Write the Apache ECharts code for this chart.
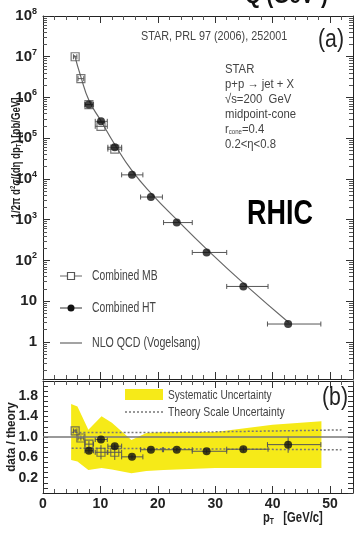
<!DOCTYPE html>
<html>
<head>
<meta charset="utf-8">
<script src="https://cdn.jsdelivr.net/npm/echarts@6/dist/echarts.min.js"></script>
<style>
html, body { margin: 0; padding: 0; background: #fff; }
#chart { width: 359px; height: 533px; }
</style>
</head>
<body>
<div id="chart"></div>
<script>
// STAR inclusive jet cross section, p+p 200 GeV
var mbPt = [5.6, 6.6, 8.0, 10.1, 12.5];
var mbXs = [1.0e7, 2.9e6, 6.7e5, 1.96e5, 5.4e4];
var mbPtLo = [5.3, 6.1, 7.3, 9.1, 11.3];
var mbPtHi = [5.9, 7.1, 8.8, 11.2, 13.7];
var mbRatio = [1.12, 0.98, 0.86, 0.70, 0.70];
var mbRatioErr = [0.04, 0.05, 0.06, 0.14, 0.15];

var htPt = [8.0, 10.1, 12.5, 15.5, 18.8, 23.3, 28.5, 34.9, 42.7];
var htXs = [6.7e5, 2.6e5, 6.0e4, 1.26e4, 3.6e3, 850, 157, 23, 2.75];
var htPtLo = [7.3, 9.1, 11.3, 13.7, 17.0, 21.0, 26.0, 32.0, 39.1];
var htPtHi = [8.8, 11.2, 13.7, 17.4, 20.8, 26.0, 32.0, 39.2, 48.4];
var htRatio = [0.73, 0.95, 0.82, 0.61, 0.75, 0.75, 0.72, 0.76, 0.85];
var htRatioErr = [0.04, 0.05, 0.05, 0.04, 0.03, 0.03, 0.04, 0.05, 0.16];

var nloPt = [5.5, 6.6, 8.0, 10.0, 12.5, 15.5, 19.0, 23.3, 28.5, 35.0, 42.8];
var nloXs = [1.1e7, 3.2e6, 8.5e5, 2.8e5, 7.0e4, 1.6e4, 4.2e3, 1.0e3, 190, 27, 3.0];

var sysPt = [4.9, 6.0, 7.9, 10.2, 12.0, 15.4, 18.0, 21.0, 30.0, 40.0, 48.5];
var sysLo = [0.55, 0.52, 0.35, 0.39, 0.36, 0.29, 0.33, 0.35, 0.39, 0.39, 0.39];
var sysHi = [1.65, 1.60, 1.14, 1.41, 1.28, 0.94, 1.08, 1.10, 1.10, 1.24, 1.31];

var scalePt = [5.0, 20.0, 35.0, 52.0];
var scaleLo = [0.78, 0.77, 0.76, 0.75];
var scaleHi = [1.09, 1.09, 1.11, 1.14];

var ratioLabels = [0.2, 0.6, 1.0, 1.4, 1.8];

var FONT = '"Liberation Sans", Arial, sans-serif';

function zip(a, b) {
    var out = [];
    for (var i = 0; i < a.length; i++) out.push([a[i], b[i]]);
    return out;
}

function errData(pt, val, lo, hi, err) {
    var out = [];
    for (var i = 0; i < pt.length; i++) {
        out.push([pt[i], val[i], lo[i], hi[i], err ? err[i] : 0]);
    }
    return out;
}

// horizontal (and optional vertical) error bars
function renderErr(params, api) {
    var x = api.value(0), y = api.value(1);
    var p = api.coord([x, y]);
    var a = api.coord([api.value(2), y]);
    var b = api.coord([api.value(3), y]);
    var st = { stroke: '#555', lineWidth: 1 };
    var kids = [
        { type: 'line', shape: { x1: a[0], y1: p[1], x2: b[0], y2: p[1] }, style: st },
        { type: 'line', shape: { x1: a[0], y1: p[1] - 2.5, x2: a[0], y2: p[1] + 2.5 }, style: st },
        { type: 'line', shape: { x1: b[0], y1: p[1] - 2.5, x2: b[0], y2: p[1] + 2.5 }, style: st }
    ];
    var e = api.value(4);
    if (e > 0) {
        var u = api.coord([x, y + e]);
        var d = api.coord([x, y - e]);
        kids.push({ type: 'line', shape: { x1: p[0], y1: u[1], x2: p[0], y2: d[1] }, style: st });
    }
    return { type: 'group', children: kids };
}

function renderBand(params, api) {
    if (params.dataIndex !== 0) return { type: 'group', children: [] };
    var pts = [];
    for (var i = 0; i < sysPt.length; i++) pts.push(api.coord([sysPt[i], sysHi[i]]));
    for (var j = sysPt.length - 1; j >= 0; j--) pts.push(api.coord([sysPt[j], sysLo[j]]));
    return { type: 'polygon', shape: { points: pts }, style: { fill: '#f6ea18' } };
}

// condensed looking text (the original uses a narrow font)
function label(x, y, text, font, sx, extra) {
    var st = { text: text, font: font + ' ' + FONT, fill: '#444', align: 'left', verticalAlign: 'middle' };
    for (var k in extra) st[k] = extra[k];
    return { type: 'text', x: x, y: y, scaleX: sx, style: st, z: 10 };
}

var tick = { show: true, inside: true, length: 7, lineStyle: { color: '#333' } };
var frame = { show: true, onZero: false, lineStyle: { color: '#222', width: 1 } };
var xMinor = { show: true, splitNumber: 5, length: 4, lineStyle: { color: '#555' } };
var logMinor = { show: true, splitNumber: 9, length: 4, lineStyle: { color: '#555' } };
var labelFont = { fontFamily: FONT, fontWeight: 'bold', fontSize: 14, color: '#222' };

var chart = echarts.init(document.getElementById('chart'));

chart.setOption({
    animation: false,
    grid: [
        { left: 43, right: 6, top: 16, height: 363, containLabel: false, outerBoundsMode: 'none' },
        { left: 43, right: 6, top: 381, height: 112, containLabel: false, outerBoundsMode: 'none' }
    ],
    xAxis: [
        { type: 'value', gridIndex: 0, min: 0, max: 54, interval: 10, axisLine: frame, axisTick: tick,
          minorTick: xMinor, axisLabel: { show: false }, splitLine: { show: false } },
        { type: 'value', gridIndex: 0, position: 'top', min: 0, max: 54, interval: 10, axisLine: frame, axisTick: tick,
          minorTick: xMinor, axisLabel: { show: false }, splitLine: { show: false } },
        { type: 'value', gridIndex: 1, min: 0, max: 54, interval: 10, axisLine: frame, axisTick: tick,
          minorTick: xMinor, splitLine: { show: false },
          axisLabel: Object.assign({ margin: 4, showMaxLabel: false }, labelFont) },
        { type: 'value', gridIndex: 1, position: 'top', min: 0, max: 54, interval: 10, axisLine: frame, axisTick: tick,
          minorTick: xMinor, axisLabel: { show: false }, splitLine: { show: false } }
    ],
    yAxis: [
        { type: 'log', gridIndex: 0, min: 0.123, max: 1e8, splitNumber: 10, axisLine: frame, axisTick: tick,
          minorTick: logMinor, splitLine: { show: false },
          axisLabel: Object.assign({
              margin: 6, showMinLabel: false,
              formatter: function (v) {
                  var e = Math.round(Math.log10(v));
                  if (e === 0) return '1';
                  if (e === 1) return '10';
                  return '10{sup|' + e + '}';
              },
              rich: { sup: { fontFamily: FONT, fontSize: 9, fontWeight: 'bold', color: '#222', padding: [0, 0, 9, 0] } }
          }, labelFont, { fontSize: 15 }) },
        { type: 'log', gridIndex: 0, position: 'right', min: 0.123, max: 1e8, splitNumber: 10, axisLine: frame, axisTick: tick,
          minorTick: logMinor, axisLabel: { show: false }, splitLine: { show: false } },
        { type: 'value', gridIndex: 1, min: -0.1, max: 2.1, interval: 0.1, axisLine: frame,
          axisTick: { show: true, inside: true, length: 5, lineStyle: { color: '#333' } },
          splitLine: { show: false },
          axisLabel: Object.assign({
              margin: 5, showMinLabel: false, showMaxLabel: false,
              formatter: function (v) {
                  for (var i = 0; i < ratioLabels.length; i++) {
                      if (Math.abs(v - ratioLabels[i]) < 1e-6) return ratioLabels[i].toFixed(1);
                  }
                  return '';
              }
          }, labelFont) },
        { type: 'value', gridIndex: 1, position: 'right', min: -0.1, max: 2.1, interval: 0.1, axisLine: frame,
          axisTick: { show: true, inside: true, length: 5, lineStyle: { color: '#333' } },
          axisLabel: { show: false }, splitLine: { show: false } }
    ],
    series: [
        // top panel
        { name: 'NLO QCD (Vogelsang)', type: 'line', xAxisIndex: 0, yAxisIndex: 0, smooth: true, symbol: 'none',
          lineStyle: { color: '#666', width: 1.2 }, data: zip(nloPt, nloXs), z: 2 },
        { type: 'custom', xAxisIndex: 0, yAxisIndex: 0, renderItem: renderErr,
          data: errData(mbPt, mbXs, mbPtLo, mbPtHi), z: 3 },
        { type: 'custom', xAxisIndex: 0, yAxisIndex: 0, renderItem: renderErr,
          data: errData(htPt, htXs, htPtLo, htPtHi), z: 3 },
        { name: 'Combined MB', type: 'scatter', xAxisIndex: 0, yAxisIndex: 0, symbol: 'rect', symbolSize: 8,
          itemStyle: { color: 'rgba(255,255,255,0)', borderColor: '#555', borderWidth: 1.2 },
          data: zip(mbPt, mbXs), z: 4 },
        { name: 'Combined HT', type: 'scatter', xAxisIndex: 0, yAxisIndex: 0, symbol: 'circle', symbolSize: 8,
          itemStyle: { color: '#111' }, data: zip(htPt, htXs), z: 5 },

        // bottom panel
        { name: 'Systematic Uncertainty', type: 'custom', xAxisIndex: 2, yAxisIndex: 2, renderItem: renderBand,
          data: zip(sysPt, sysHi), z: 1 },
        { name: 'Theory Scale Uncertainty', type: 'line', xAxisIndex: 2, yAxisIndex: 2, symbol: 'none', smooth: true,
          lineStyle: { color: '#777', width: 1.5, type: [2, 2] }, data: zip(scalePt, scaleHi), z: 2,
          markLine: { silent: true, symbol: 'none', label: { show: false },
                      lineStyle: { color: '#777', width: 1.5, type: 'solid' }, data: [{ yAxis: 1 }] } },
        { type: 'line', xAxisIndex: 2, yAxisIndex: 2, symbol: 'none', smooth: true,
          lineStyle: { color: '#777', width: 1.5, type: [2, 2] }, data: zip(scalePt, scaleLo), z: 2 },
        { type: 'custom', xAxisIndex: 2, yAxisIndex: 2, renderItem: renderErr,
          data: errData(mbPt, mbRatio, mbPtLo, mbPtHi, mbRatioErr), z: 3 },
        { type: 'custom', xAxisIndex: 2, yAxisIndex: 2, renderItem: renderErr,
          data: errData(htPt, htRatio, htPtLo, htPtHi, htRatioErr), z: 3 },
        { type: 'scatter', xAxisIndex: 2, yAxisIndex: 2, symbol: 'rect', symbolSize: 8,
          itemStyle: { color: 'rgba(255,255,255,0)', borderColor: '#555', borderWidth: 1.2 },
          data: zip(mbPt, mbRatio), z: 4 },
        { type: 'scatter', xAxisIndex: 2, yAxisIndex: 2, symbol: 'circle', symbolSize: 8,
          itemStyle: { color: '#111' }, data: zip(htPt, htRatio), z: 5 }
    ],
    graphic: [
        // cut-off heading above the plot
        label(245, 8, 'Q (GeV\u00b2)', 'bold 24px', 0.85, { fill: '#111', verticalAlign: 'bottom' }),
        label(141, 36, 'STAR, PRL 97 (2006), 252001', '13px', 0.83),
        label(318, 40, '(a)', '25px', 0.85, { fill: '#222' }),
        label(225, 70, 'STAR\np+p \u2192 jet + X\n\u221as=200  GeV\nmidpoint-cone\nr{sub|cone}=0.4\n0.2<\u03b7<0.8',
              '13px', 0.87, { verticalAlign: 'top', y: -8, lineHeight: 15,
                              rich: { sub: { font: '7px ' + FONT, fill: '#444', padding: [5, 0, 0, 0] } } }),
        label(247, 214, 'RHIC', 'bold 35px', 0.77, { fill: '#000' }),

        // rotated y titles
        { type: 'text', x: 16, y: 158, rotation: Math.PI / 2, scaleX: 0.74, z: 10,
          style: { text: '1/2\u03c0 d{sup|2}\u03c3/(d\u03b7 dp{sub|T}) [pb/GeV]', font: 'bold 13px ' + FONT,
                   fill: '#222', align: 'center', verticalAlign: 'middle',
                   rich: {
                       sup: { font: 'bold 8px ' + FONT, fill: '#222', padding: [0, 0, 6, 0] },
                       sub: { font: 'bold 8px ' + FONT, fill: '#222', padding: [6, 0, 0, 0] }
                   } } },
        { type: 'text', x: 11, y: 437, rotation: Math.PI / 2, scaleX: 0.9, z: 10,
          style: { text: 'data / theory', font: 'bold 13px ' + FONT, fill: '#222',
                   align: 'center', verticalAlign: 'middle' } },

        // top legend
        { type: 'line', shape: { x1: 60, y1: 276, x2: 82, y2: 276 }, style: { stroke: '#666', lineWidth: 1 } },
        { type: 'rect', shape: { x: 67.5, y: 272.5, width: 7, height: 7 }, style: { fill: '#fff', stroke: '#555', lineWidth: 1.2 } },
        label(92, 276, 'Combined MB', '14px', 0.74),
        { type: 'line', shape: { x1: 60, y1: 308, x2: 82, y2: 308 }, style: { stroke: '#333', lineWidth: 1 } },
        { type: 'circle', shape: { cx: 71, cy: 308, r: 3.5 }, style: { fill: '#111' } },
        label(92, 308, 'Combined HT', '14px', 0.74),
        { type: 'line', shape: { x1: 60, y1: 343, x2: 82, y2: 343 }, style: { stroke: '#666', lineWidth: 1.2 } },
        label(92, 343, 'NLO QCD (Vogelsang)', '14px', 0.76),

        // bottom legend
        { type: 'rect', shape: { x: 125, y: 389, width: 38, height: 11 }, style: { fill: '#f6ea18' } },
        label(168, 395, 'Systematic Uncertainty', '13px', 0.78),
        { type: 'line', shape: { x1: 125, y1: 412, x2: 163, y2: 412 }, style: { stroke: '#777', lineWidth: 1.5, lineDash: [2, 2] } },
        label(168, 412, 'Theory Scale Uncertainty', '13px', 0.8),
        label(322, 398, '(b)', '25px', 0.85, { fill: '#222' }),

        // x axis title
        label(263, 518, 'p{sub|T}   [GeV/c]', 'bold 15px', 0.75,
              { fill: '#222', rich: { sub: { font: 'bold 9px ' + FONT, fill: '#222', padding: [7, 0, 0, 0] } } })
    ]
});
</script>
</body>
</html>
